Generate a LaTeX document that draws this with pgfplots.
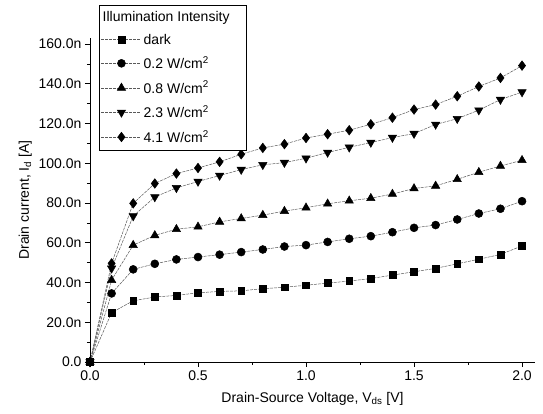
\documentclass[border=0pt]{standalone}
\usepackage{pgfplots}
\pgfplotsset{compat=1.18}
\usepackage{fontspec}
\setmainfont{Liberation Sans}
\newcommand{\fs}{\fontsize{14}{16}\selectfont}
\begin{document}
\begin{tikzpicture}
\begin{axis}[
  width=445pt, height=324pt, scale only axis,
  xmin=0, xmax=2.06, ymin=0, ymax=163,
  axis lines=left, axis line style={-, line width=0.8pt},
  xtick={0,0.5,1,1.5,2}, xticklabels={0.0,0.5,1.0,1.5,2.0},
  ytick={0,20,40,60,80,100,120,140,160},
  yticklabels={0.0,20.0n,40.0n,60.0n,80.0n,100.0n,120.0n,140.0n,160.0n},
  minor x tick num=1, minor y tick num=1,
  tick align=outside, major tick length=5pt, minor tick length=3pt,
  tick style={black, line width=0.6pt},
  tick label style={font=\fs},
  label style={font=\fs},
  xlabel={Drain-Source Voltage, V\textsubscript{ds} [V]},
  xlabel style={yshift=-5pt},
  ylabel={Drain current, I\textsubscript{d} [A]},
  legend cell align=left,
  legend style={font=\fs, at={(rel axis cs:0.02,1.102)}, anchor=north west,
    draw=black, line width=0.6pt, row sep=7pt, inner xsep=2pt, inner ysep=4pt},
  legend image code/.code={\draw[mark repeat=2,mark phase=2] plot coordinates {(0pt,0pt) (20pt,0pt) (40pt,0pt)};},
  ser/.style={gray!70!black, line width=0.5pt, dash pattern=on 3pt off 1pt,
     mark options={solid, fill=black, draw=black}},
]
\addlegendimage{empty legend}
\addlegendentry{\hspace*{-41pt}Illumination Intensity\hspace*{13pt}}
\addplot[ser, mark=square*, mark size=3.4pt] coordinates {
(0,0) (0.1,24.8) (0.2,30.8) (0.3,32.7) (0.4,33.5) (0.5,34.8) (0.6,35.5) (0.7,35.8) (0.8,36.9) (0.9,37.6) (1.0,38.6) (1.1,39.7) (1.2,40.7) (1.3,42.0) (1.4,43.7) (1.5,45.4) (1.6,47.1) (1.7,49.4) (1.8,51.7) (1.9,54.1) (2.0,58.4)};
\addlegendentry{dark}
\addplot[ser, mark=*, mark size=4pt] coordinates {
(0,0) (0.1,34.5) (0.2,46.6) (0.3,49.4) (0.4,51.6) (0.5,52.8) (0.6,54.0) (0.7,55.3) (0.8,56.6) (0.9,58.1) (1.0,58.8) (1.1,60.4) (1.2,62.0) (1.3,63.3) (1.4,65.3) (1.5,67.5) (1.6,68.9) (1.7,71.7) (1.8,74.7) (1.9,77.1) (2.0,80.9)};
\addlegendentry{0.2 W/cm\textsuperscript{2}}
\addplot[ser, mark=triangle*, mark size=4.8pt] coordinates {
(0,0) (0.1,41.2) (0.2,58.8) (0.3,63.7) (0.4,66.8) (0.5,68.0) (0.6,70.5) (0.7,72.2) (0.8,73.9) (0.9,75.9) (1.0,77.6) (1.1,79.6) (1.2,81.1) (1.3,82.4) (1.4,84.5) (1.5,87.3) (1.6,88.6) (1.7,91.9) (1.8,95.5) (1.9,98.6) (2.0,101.5)};
\addlegendentry{0.8 W/cm\textsuperscript{2}}
\addplot[ser, mark=triangle*, mark size=4.8pt, mark options={solid, fill=black, draw=black, rotate=180}] coordinates {
(0,0) (0.1,47.1) (0.2,73.4) (0.3,83.0) (0.4,87.6) (0.5,90.8) (0.6,93.8) (0.7,96.8) (0.8,99.2) (0.9,100.3) (1.0,102.5) (1.1,105.4) (1.2,108.0) (1.3,110.4) (1.4,112.9) (1.5,114.9) (1.6,119.5) (1.7,122.4) (1.8,126.7) (1.9,132.0) (2.0,135.8)};
\addlegendentry{2.3 W/cm\textsuperscript{2}}
\addplot[ser, mark=diamond*, mark size=4.8pt] coordinates {
(0,0) (0.1,49.6) (0.2,79.8) (0.3,89.8) (0.4,94.8) (0.5,97.6) (0.6,100.7) (0.7,104.5) (0.8,107.7) (0.9,109.6) (1.0,112.7) (1.1,114.6) (1.2,116.6) (1.3,119.6) (1.4,122.9) (1.5,127.0) (1.6,129.5) (1.7,133.7) (1.8,138.6) (1.9,142.9) (2.0,149.1)};
\addlegendentry{4.1 W/cm\textsuperscript{2}}
\end{axis}
\path ([shift={(-90pt,-52pt)}]current axis.south west) rectangle ([shift={(8pt,38pt)}]current axis.north east);
\end{tikzpicture}
\end{document}
